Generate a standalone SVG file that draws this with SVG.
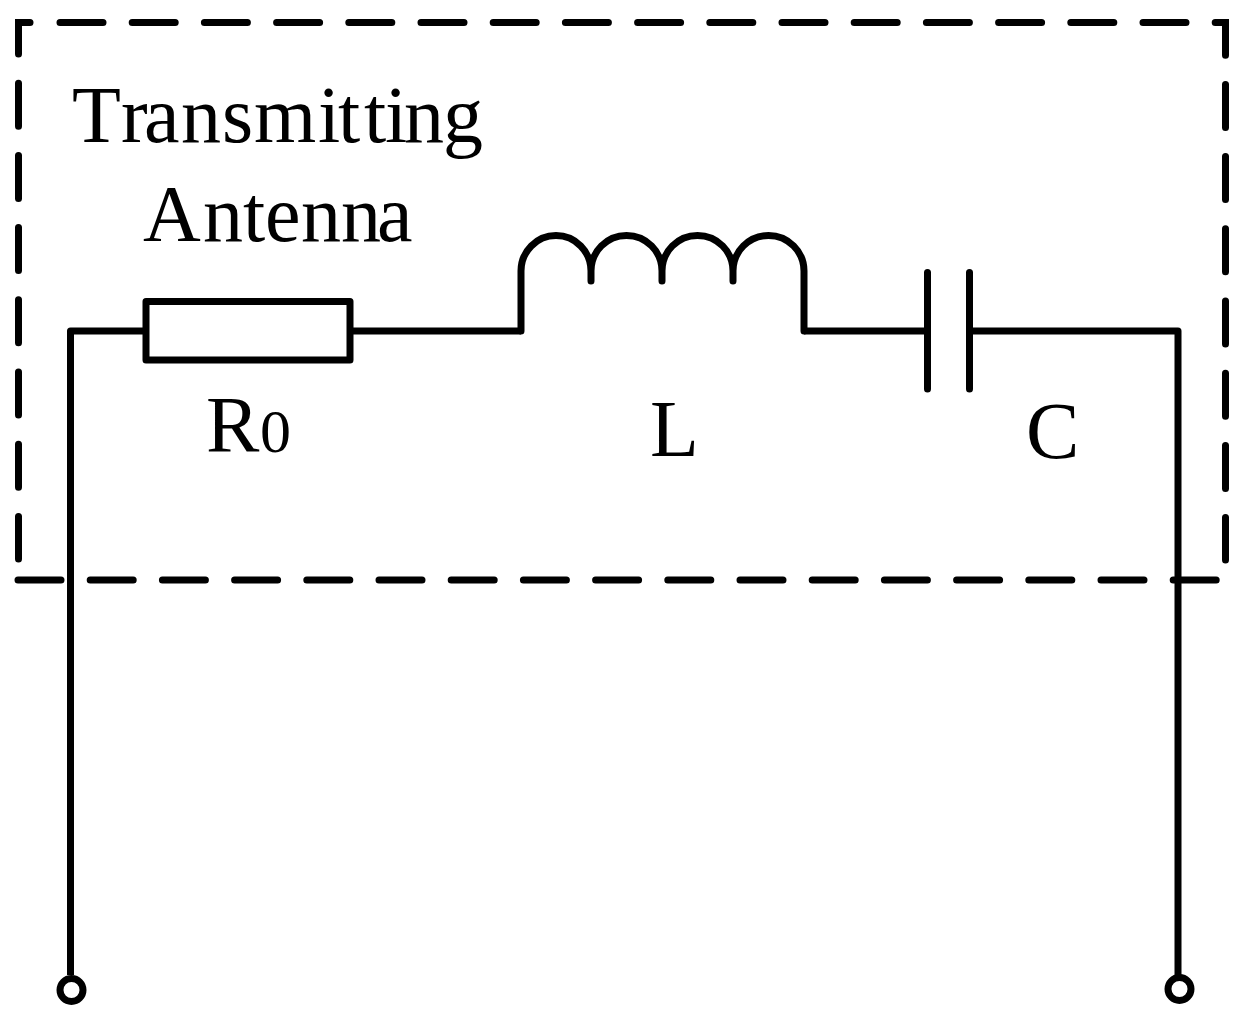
<svg xmlns="http://www.w3.org/2000/svg" width="1243" height="1033" viewBox="0 0 1243 1033">
<style>
.w{fill:none;stroke:#000;stroke-width:7;stroke-linejoin:round;stroke-linecap:butt}
.c{fill:none;stroke:#000;stroke-width:7;stroke-linecap:round}
.d{fill:none;stroke:#000;stroke-width:7;stroke-linecap:round;stroke-dasharray:43 29.2}
text{font-family:"Liberation Serif","Times New Roman",serif;fill:#000;font-size:80px;font-kerning:none}
.s{font-size:62px}
</style>
<rect width="1243" height="1033" fill="#fff"/>
<g id="boundary">
<path class="d" d="M30 22.5H18.5V559"/>
<path class="d" d="M60 22.5H1225.5V560"/>
<path class="d" d="M18 580H1219"/>
</g>
<g id="connectors">
<path class="w" d="M70.5 975V331H146"/>
<path class="w" d="M350 331H521"/>
<path class="w" d="M804 331H927.500"/>
<path class="w" d="M969.500 331H1178V975"/>
</g>
<g id="resistor"><rect class="w" x="146" y="301.500" width="204" height="58.500"/><text x="206" y="452">R</text><text class="s" x="260" y="452">0</text></g>
<g id="inductor"><path class="c" d="M521 331V271A35 35.500 0 0 1 591 271V281M591 271A35.500 35.500 0 0 1 662 271V281M662 271A35.500 35.500 0 0 1 733 271V281M733 271A35.500 35.500 0 0 1 804 271V331"/><text x="650" y="456">L</text></g>
<g id="capacitor"><path class="c" d="M927.500 272.500V389M969.500 272.500V389"/><text x="1026" y="458">C</text></g>
<g id="terminal-left"><circle class="w" cx="71.500" cy="990" r="11.500"/></g>
<g id="terminal-right"><circle class="w" cx="1179.500" cy="989" r="11.500"/></g>
<g id="label"><text x="72 121 144 181 222 254 318 338 364 385 404 443" y="142">Transmitting</text><text x="143 203 243 265 301 341 377" y="241">Antenna</text></g>
</svg>
